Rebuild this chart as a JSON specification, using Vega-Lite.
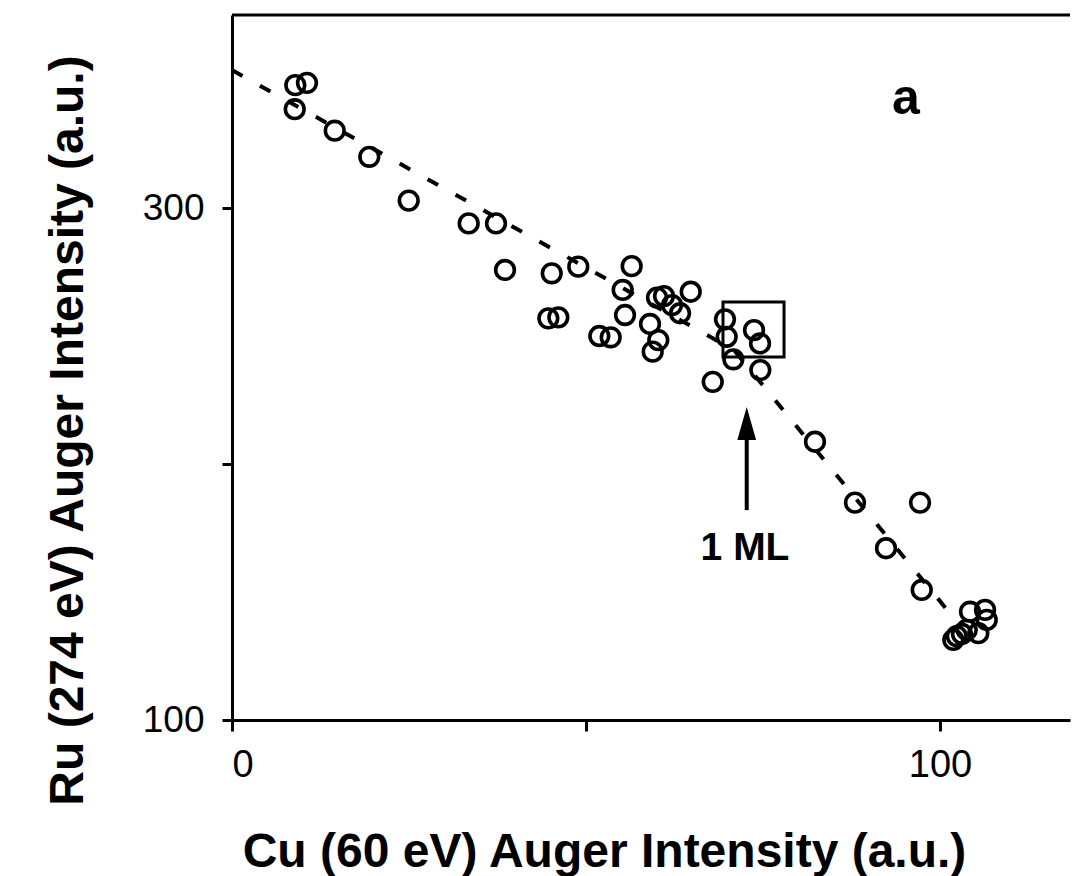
{
  "$schema": "https://vega.github.io/schema/vega-lite/v6.json",
  "width": 838,
  "height": 705,
  "autosize": "none",
  "padding": {"left": 232, "top": 15, "right": 3, "bottom": 156},
  "background": "white",
  "view": {"stroke": null, "strokeWidth": 0},
  "config": {"view": {"stroke": null, "strokeWidth": 0}, "font": "Liberation Sans"},
  "datasets": {
    "points": [
      {"cu": 8.94, "ru": 348.0}, {"cu": 10.59, "ru": 348.9}, {"cu": 8.86, "ru": 338.6},
      {"cu": 14.51, "ru": 330.2}, {"cu": 19.39, "ru": 320.0}, {"cu": 24.96, "ru": 302.9},
      {"cu": 33.43, "ru": 294.0}, {"cu": 37.29, "ru": 294.0}, {"cu": 38.56, "ru": 275.8},
      {"cu": 45.16, "ru": 274.5}, {"cu": 48.91, "ru": 277.1}, {"cu": 56.45, "ru": 277.3},
      {"cu": 55.18, "ru": 268.0}, {"cu": 60.03, "ru": 265.0}, {"cu": 61.02, "ru": 265.6},
      {"cu": 64.79, "ru": 267.3}, {"cu": 63.28, "ru": 258.9}, {"cu": 62.15, "ru": 262.1},
      {"cu": 44.68, "ru": 256.9}, {"cu": 46.09, "ru": 257.3}, {"cu": 55.51, "ru": 258.2},
      {"cu": 51.88, "ru": 250.0}, {"cu": 53.49, "ru": 249.5}, {"cu": 59.04, "ru": 254.7},
      {"cu": 60.21, "ru": 248.4}, {"cu": 59.42, "ru": 243.9}, {"cu": 69.63, "ru": 256.5},
      {"cu": 69.87, "ru": 249.7}, {"cu": 70.81, "ru": 240.9}, {"cu": 73.73, "ru": 252.3},
      {"cu": 74.58, "ru": 247.1}, {"cu": 74.62, "ru": 236.7}, {"cu": 67.9, "ru": 232.1},
      {"cu": 82.34, "ru": 208.7}, {"cu": 87.99, "ru": 184.9}, {"cu": 97.18, "ru": 184.9},
      {"cu": 92.37, "ru": 167.1}, {"cu": 97.42, "ru": 150.8},
      {"cu": 104.24, "ru": 142.3}, {"cu": 106.36, "ru": 143.0}, {"cu": 106.6, "ru": 139.1},
      {"cu": 105.41, "ru": 133.9}, {"cu": 103.77, "ru": 135.2}, {"cu": 102.36, "ru": 132.8},
      {"cu": 101.88, "ru": 131.3}, {"cu": 103.1, "ru": 133.6}
    ],
    "fit": [
      {"cu": 0, "ru": 353.9, "o": 1},
      {"cu": 70.9, "ru": 244.5, "o": 2},
      {"cu": 102.5, "ru": 138.0, "o": 3}
    ]
  },
  "layer": [
    {
      "data": {"name": "points"},
      "mark": {"type": "point", "shape": "circle", "filled": false, "size": 350, "strokeWidth": 3.6, "color": "black", "opacity": 1},
      "encoding": {
        "x": {
          "field": "cu", "type": "quantitative",
          "scale": {"domain": [0, 118.36], "nice": false, "zero": false},
          "axis": {
            "title": "Cu (60 eV) Auger Intensity (a.u.)",
            "values": [0, 50, 100],
            "labelExpr": "datum.value == 50 ? '' : datum.label",
            "grid": false,
            "domainColor": "black", "domainWidth": 3,
            "tickColor": "black", "tickWidth": 3, "tickSize": 11,
            "labelFont": "Liberation Sans", "labelFontSize": 38, "labelColor": "black",
            "labelPadding": 15,
            "titleFont": "Liberation Sans", "titleFontSize": 48, "titleFontWeight": "bold", "titleColor": "black",
            "titleLimit": 2000,
            "titleX": 372, "titleY": 146, "titleAlign": "center", "titleBaseline": "alphabetic"
          }
        },
        "y": {
          "field": "ru", "type": "quantitative",
          "scale": {"domain": [100, 375.4], "nice": false, "zero": false},
          "axis": {
            "title": "Ru (274 eV) Auger Intensity (a.u.)",
            "values": [100, 200, 300],
            "labelExpr": "datum.value == 200 ? '' : datum.label",
            "grid": false,
            "domainColor": "black", "domainWidth": 3,
            "tickColor": "black", "tickWidth": 3, "tickSize": 10,
            "labelFont": "Liberation Sans", "labelFontSize": 37, "labelColor": "black",
            "labelPadding": 18,
            "titleFont": "Liberation Sans", "titleFontSize": 48, "titleFontWeight": "bold", "titleColor": "black",
            "titleLimit": 2000,
            "titleAngle": -90,
            "titleX": -150, "titleY": 415, "titleAlign": "center", "titleBaseline": "alphabetic"
          }
        }
      }
    },
    {
      "data": {"name": "fit"},
      "mark": {"type": "line", "color": "black", "strokeWidth": 4, "strokeDash": [12, 20]},
      "encoding": {
        "x": {"field": "cu", "type": "quantitative"},
        "y": {"field": "ru", "type": "quantitative"},
        "order": {"field": "o"}
      }
    },
    {
      "data": {"values": [{"ru": 375.4}]},
      "mark": {"type": "rule", "color": "black", "strokeWidth": 3},
      "encoding": {"y": {"field": "ru", "type": "quantitative"}}
    },
    {
      "data": {"values": [{"cu": 69.35, "cu2": 77.97, "ru": 263.3, "ru2": 241.8}]},
      "mark": {"type": "rect", "fill": null, "fillOpacity": 0, "stroke": "black", "strokeWidth": 3},
      "encoding": {
        "x": {"field": "cu", "type": "quantitative"},
        "x2": {"field": "cu2"},
        "y": {"field": "ru", "type": "quantitative"},
        "y2": {"field": "ru2"}
      }
    },
    {
      "data": {"values": [{"cu": 72.7, "ru": 182.0, "ru2": 210.5}]},
      "mark": {"type": "rule", "color": "black", "strokeWidth": 4},
      "encoding": {
        "x": {"field": "cu", "type": "quantitative"},
        "y": {"field": "ru", "type": "quantitative"},
        "y2": {"field": "ru2"}
      }
    },
    {
      "data": {"values": [{"cu": 72.7, "ru": 215.8}]},
      "mark": {"type": "point", "shape": "M0,-1L0.57,1L-0.57,1Z", "filled": true, "size": 1089, "color": "black", "opacity": 1, "strokeWidth": 0},
      "encoding": {
        "x": {"field": "cu", "type": "quantitative"},
        "y": {"field": "ru", "type": "quantitative"}
      }
    },
    {
      "data": {"values": [{"cu": 72.46, "ru": 162.5, "label": "1 ML"}]},
      "mark": {"type": "text", "font": "Liberation Sans", "fontSize": 39, "fontWeight": "bold", "color": "black", "align": "center", "baseline": "alphabetic"},
      "encoding": {
        "x": {"field": "cu", "type": "quantitative"},
        "y": {"field": "ru", "type": "quantitative"},
        "text": {"field": "label"}
      }
    },
    {
      "data": {"values": [{"cu": 95.2, "ru": 336.7, "label": "a"}]},
      "mark": {"type": "text", "font": "Liberation Sans", "fontSize": 50, "fontWeight": "bold", "color": "black", "align": "center", "baseline": "alphabetic"},
      "encoding": {
        "x": {"field": "cu", "type": "quantitative"},
        "y": {"field": "ru", "type": "quantitative"},
        "text": {"field": "label"}
      }
    }
  ]
}
